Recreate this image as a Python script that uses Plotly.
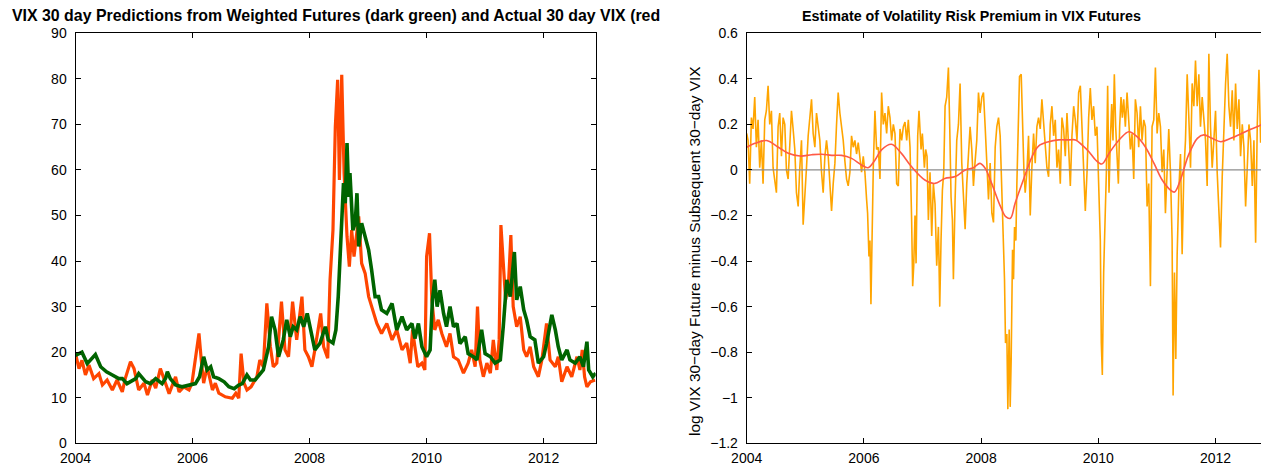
import plotly.graph_objects as go

# ---------------- Left panel: actual VIX (red) and predicted (dark green) ----------------
act_years = [2004.00, 2004.06, 2004.11, 2004.17, 2004.23, 2004.31, 2004.40, 2004.46, 2004.54, 2004.63,
             2004.71, 2004.80, 2004.85, 2004.94, 2005.00, 2005.08, 2005.17, 2005.23, 2005.31, 2005.37,
             2005.45, 2005.51, 2005.60, 2005.71, 2005.77, 2005.85, 2005.94, 2005.99, 2006.05, 2006.11,
             2006.15, 2006.19, 2006.25, 2006.34, 2006.39, 2006.45, 2006.56, 2006.68, 2006.74, 2006.79,
             2006.83, 2006.88, 2006.93, 2007.00, 2007.10, 2007.15, 2007.21, 2007.27, 2007.33, 2007.38,
             2007.44, 2007.52, 2007.58, 2007.64, 2007.71, 2007.78, 2007.87, 2007.92, 2007.98, 2008.04,
             2008.09, 2008.19, 2008.24, 2008.31, 2008.35, 2008.40, 2008.44, 2008.48, 2008.51, 2008.55,
             2008.59, 2008.64, 2008.68, 2008.72, 2008.76, 2008.84, 2008.89, 2008.95, 2009.01, 2009.06,
             2009.15, 2009.23, 2009.32, 2009.41, 2009.49, 2009.58, 2009.66, 2009.72, 2009.76, 2009.80,
             2009.85, 2009.92, 2009.97, 2010.00, 2010.05, 2010.09, 2010.14, 2010.20, 2010.26, 2010.34,
             2010.40, 2010.46, 2010.54, 2010.63, 2010.71, 2010.77, 2010.83, 2010.87, 2010.91, 2010.97,
             2011.03, 2011.09, 2011.14, 2011.20, 2011.24, 2011.27, 2011.31, 2011.35, 2011.40, 2011.44,
             2011.48, 2011.54, 2011.60, 2011.66, 2011.71, 2011.77, 2011.83, 2011.91, 2011.97, 2012.05,
             2012.11, 2012.20, 2012.25, 2012.31, 2012.40, 2012.48, 2012.57, 2012.62, 2012.66, 2012.70,
             2012.74, 2012.80, 2012.88]
act_vix = [19.7, 16.4, 18.2, 15.0, 17.2, 14.2, 15.3, 12.8, 13.9, 11.7,
           13.9, 11.3, 14.2, 17.9, 16.4, 11.7, 13.2, 10.6, 13.9, 12.1,
           16.4, 14.2, 10.9, 14.6, 11.3, 12.4, 11.7, 13.2, 19.0, 24.1,
           18.2, 13.2, 16.8, 11.7, 13.2, 11.0, 10.2, 9.9, 11.0, 9.9,
           19.7, 13.2, 11.7, 12.4, 14.6, 18.3, 16.8, 30.7, 21.2, 16.8,
           17.6, 31.1, 20.5, 19.0, 31.1, 22.7, 32.2, 20.5, 19.0, 16.8,
           20.5, 28.5, 21.2, 18.7, 35.9, 46.8, 69.5, 79.8, 57.8, 80.9,
           59.3, 45.4, 38.8, 46.8, 41.0, 49.8, 39.5, 37.3, 32.2, 30.0,
           26.3, 24.1, 26.3, 22.7, 24.9, 20.5, 22.0, 17.6, 24.9, 21.2,
           16.8, 17.6, 16.1, 41.0, 46.1, 31.5, 24.9, 27.1, 24.1, 21.2,
           24.1, 19.0, 18.3, 15.4, 17.6, 20.5, 16.8, 30.0, 18.3, 14.6,
           17.6, 15.4, 22.7, 16.1, 22.7, 47.9, 38.8, 31.5, 35.1, 45.7,
           30.0, 25.6, 27.8, 20.5, 19.0, 21.2, 16.8, 14.6, 18.3, 26.3,
           18.3, 16.8, 19.0, 13.5, 16.8, 14.6, 19.0, 16.1, 20.5, 14.6,
           12.4, 13.5, 13.9]

pred_years = [2004.00, 2004.11, 2004.20, 2004.34, 2004.43, 2004.53, 2004.63, 2004.74, 2004.80, 2004.88,
              2005.03, 2005.08, 2005.20, 2005.28, 2005.37, 2005.48, 2005.54, 2005.57, 2005.62, 2005.71,
              2005.82, 2005.94, 2006.05, 2006.12, 2006.19, 2006.25, 2006.31, 2006.36, 2006.45, 2006.54,
              2006.62, 2006.71, 2006.79, 2006.85, 2006.93, 2006.99, 2007.07, 2007.21, 2007.30, 2007.35,
              2007.41, 2007.47, 2007.55, 2007.61, 2007.67, 2007.72, 2007.78, 2007.84, 2007.90, 2007.96,
              2008.02, 2008.09, 2008.18, 2008.27, 2008.32, 2008.40, 2008.45, 2008.49, 2008.53, 2008.58,
              2008.61, 2008.64, 2008.67, 2008.69, 2008.74, 2008.78, 2008.81, 2008.84, 2008.89, 2008.95,
              2009.01, 2009.06, 2009.12, 2009.18, 2009.23, 2009.32, 2009.41, 2009.49, 2009.58, 2009.66,
              2009.75, 2009.80, 2009.86, 2009.92, 2010.00, 2010.06, 2010.10, 2010.14, 2010.18, 2010.23,
              2010.29, 2010.34, 2010.40, 2010.46, 2010.52, 2010.57, 2010.66, 2010.71, 2010.80, 2010.86,
              2010.94, 2011.00, 2011.09, 2011.17, 2011.26, 2011.31, 2011.37, 2011.43, 2011.50, 2011.54,
              2011.60, 2011.66, 2011.71, 2011.77, 2011.85, 2011.91, 2012.00, 2012.05, 2012.14, 2012.20,
              2012.25, 2012.31, 2012.40, 2012.45, 2012.54, 2012.62, 2012.68, 2012.74, 2012.77, 2012.84,
              2012.89]
pred_vix = [19.3, 20.0, 17.5, 19.5, 16.8, 15.7, 15.0, 14.2, 14.2, 13.1,
            14.2, 15.3, 13.5, 13.1, 14.2, 13.1, 14.3, 15.7, 14.2, 12.8,
            12.4, 12.8, 13.1, 14.6, 19.0, 16.1, 16.8, 14.6, 14.2, 13.5,
            12.4, 12.0, 12.8, 13.1, 15.0, 13.9, 13.9, 16.1, 21.2, 27.8,
            24.9, 19.0, 22.7, 27.1, 23.4, 25.6, 24.9, 27.8, 25.6, 28.5,
            24.9, 20.5, 22.0, 25.6, 22.7, 22.0, 24.9, 32.2, 43.2, 57.1,
            52.7, 65.9, 54.1, 59.3, 46.8, 48.3, 54.9, 43.2, 48.3, 45.4,
            42.4, 38.1, 32.2, 32.2, 29.3, 28.5, 30.7, 24.9, 27.8, 24.9,
            26.3, 23.0, 26.3, 21.2, 19.0, 20.5, 31.5, 35.9, 30.0, 33.6,
            28.5, 25.6, 30.0, 25.6, 26.3, 21.9, 23.4, 19.7, 19.0, 18.3,
            24.9, 19.7, 19.0, 17.6, 18.3, 25.6, 35.9, 32.2, 42.0, 31.5,
            34.4, 29.3, 27.1, 23.4, 22.7, 17.6, 19.0, 21.9, 28.2, 24.9,
            21.2, 18.3, 20.5, 18.3, 17.6, 19.0, 16.8, 22.3, 16.1, 14.6,
            15.4]

# ---------------- Right panel: volatility risk premium ----------------
vrp_years = [2004.000, 2004.023, 2004.051, 2004.080, 2004.108, 2004.137, 2004.165, 2004.194, 2004.222, 2004.251,
             2004.279, 2004.308, 2004.336, 2004.365, 2004.393, 2004.422, 2004.450, 2004.479, 2004.507, 2004.536,
             2004.564, 2004.593, 2004.621, 2004.650, 2004.678, 2004.707, 2004.735, 2004.764, 2004.792, 2004.821,
             2004.849, 2004.878, 2004.906, 2004.935, 2004.963, 2004.992, 2005.020, 2005.049, 2005.077, 2005.106,
             2005.134, 2005.163, 2005.191, 2005.220, 2005.248, 2005.277, 2005.305, 2005.334, 2005.362, 2005.391,
             2005.419, 2005.448, 2005.476, 2005.505, 2005.533, 2005.561, 2005.590, 2005.618, 2005.647, 2005.675,
             2005.704, 2005.732, 2005.761, 2005.789, 2005.818, 2005.846, 2005.875, 2005.903, 2005.932, 2005.960,
             2005.989, 2006.017, 2006.046, 2006.063, 2006.086, 2006.103, 2006.120, 2006.143, 2006.160, 2006.188,
             2006.217, 2006.245, 2006.274, 2006.302, 2006.331, 2006.359, 2006.388, 2006.416, 2006.445, 2006.473,
             2006.502, 2006.530, 2006.559, 2006.587, 2006.616, 2006.644, 2006.673, 2006.701, 2006.730, 2006.758,
             2006.787, 2006.815, 2006.832, 2006.850, 2006.872, 2006.890, 2006.918, 2006.940, 2006.975, 2006.997,
             2007.032, 2007.054, 2007.077, 2007.100, 2007.128, 2007.157, 2007.185, 2007.214, 2007.242, 2007.271,
             2007.294, 2007.316, 2007.339, 2007.362, 2007.385, 2007.413, 2007.442, 2007.465, 2007.487, 2007.510,
             2007.527, 2007.556, 2007.584, 2007.613, 2007.641, 2007.670, 2007.698, 2007.727, 2007.755, 2007.784,
             2007.812, 2007.841, 2007.869, 2007.898, 2007.926, 2007.955, 2007.983, 2008.012, 2008.040, 2008.069,
             2008.097, 2008.126, 2008.154, 2008.183, 2008.211, 2008.240, 2008.268, 2008.297, 2008.325, 2008.354,
             2008.382, 2008.399, 2008.416, 2008.439, 2008.456, 2008.479, 2008.496, 2008.513, 2008.536, 2008.553,
             2008.570, 2008.593, 2008.610, 2008.638, 2008.655, 2008.684, 2008.707, 2008.730, 2008.752, 2008.781,
             2008.809, 2008.838, 2008.866, 2008.895, 2008.923, 2008.952, 2008.980, 2009.009, 2009.037, 2009.066,
             2009.094, 2009.123, 2009.151, 2009.180, 2009.208, 2009.237, 2009.265, 2009.294, 2009.322, 2009.351,
             2009.379, 2009.408, 2009.436, 2009.465, 2009.493, 2009.522, 2009.550, 2009.579, 2009.607, 2009.636,
             2009.664, 2009.693, 2009.721, 2009.750, 2009.778, 2009.807, 2009.835, 2009.863, 2009.891, 2009.920,
             2009.948, 2009.977, 2010.005, 2010.034, 2010.051, 2010.068, 2010.091, 2010.114, 2010.137, 2010.159,
             2010.182, 2010.205, 2010.228, 2010.250, 2010.273, 2010.296, 2010.319, 2010.342, 2010.364, 2010.387,
             2010.410, 2010.433, 2010.461, 2010.490, 2010.518, 2010.547, 2010.575, 2010.604, 2010.632, 2010.661,
             2010.689, 2010.718, 2010.746, 2010.775, 2010.803, 2010.832, 2010.860, 2010.889, 2010.917, 2010.946,
             2010.974, 2011.003, 2011.031, 2011.060, 2011.088, 2011.117, 2011.145, 2011.174, 2011.202, 2011.231,
             2011.259, 2011.276, 2011.299, 2011.322, 2011.345, 2011.373, 2011.402, 2011.430, 2011.459, 2011.487,
             2011.516, 2011.544, 2011.573, 2011.601, 2011.630, 2011.658, 2011.687, 2011.715, 2011.743, 2011.772,
             2011.800, 2011.829, 2011.857, 2011.886, 2011.914, 2011.943, 2011.971, 2012.000, 2012.028, 2012.057,
             2012.085, 2012.114, 2012.142, 2012.171, 2012.199, 2012.228, 2012.256, 2012.285, 2012.313, 2012.342,
             2012.370, 2012.399, 2012.427, 2012.456, 2012.484, 2012.513, 2012.541, 2012.570, 2012.598, 2012.627,
             2012.655, 2012.684, 2012.712, 2012.741, 2012.769, 2012.798, 2012.826, 2012.855, 2012.880]
vrp_values = [0.16, 0.13, -0.06, 0.23, 0.18, 0.32, 0.10, 0.22, 0.01, 0.13,
              -0.06, 0.22, 0.26, 0.37, 0.20, 0.26, 0.01, -0.06, -0.10, 0.19,
              0.25, 0.06, 0.23, 0.20, 0.00, -0.04, 0.13, 0.26, 0.18, 0.09,
              -0.10, -0.16, 0.01, 0.13, -0.24, -0.13, 0.01, 0.15, 0.23, 0.31,
              0.16, 0.10, 0.25, 0.19, 0.13, -0.01, -0.10, 0.06, 0.13, 0.06,
              -0.04, -0.18, -0.06, 0.03, 0.20, 0.34, 0.25, 0.19, 0.13, 0.04,
              -0.04, -0.07, -0.01, 0.15, 0.10, 0.13, 0.07, 0.12, 0.04, -0.01,
              0.06, -0.01, -0.13, -0.19, -0.38, -0.31, -0.59, -0.16, 0.01, 0.26,
              0.09, 0.10, -0.04, 0.34, 0.20, 0.25, 0.16, 0.28, 0.23, 0.13,
              0.20, 0.16, -0.06, -0.07, 0.18, 0.13, 0.19, 0.21, 0.13, 0.22,
              0.10, -0.23, -0.51, -0.42, -0.20, -0.41, 0.15, 0.26, 0.09, 0.16,
              0.01, 0.09, 0.06, -0.22, -0.01, -0.29, -0.06, -0.15, -0.42, -0.25,
              -0.60, -0.31, -0.09, -0.01, 0.28, 0.32, 0.45, 0.18, -0.12, -0.22,
              -0.48, -0.13, 0.13, 0.20, 0.38, 0.03, -0.13, -0.26, -0.06, 0.06,
              0.19, 0.09, -0.07, 0.04, 0.13, 0.34, 0.25, 0.32, 0.34, 0.19,
              0.01, -0.13, 0.03, -0.19, -0.23, 0.10, 0.19, 0.23, 0.15, -0.09,
              -0.34, -0.48, -0.76, -0.72, -1.05, -0.70, -1.04, -0.83, -0.35, -0.48,
              -0.25, -0.31, -0.06, 0.20, 0.41, 0.42, 0.18, 0.00, -0.10, -0.01,
              0.15, -0.20, 0.01, 0.16, 0.03, 0.19, 0.23, 0.18, 0.31, 0.20,
              0.13, 0.01, -0.03, 0.20, 0.28, 0.15, 0.22, 0.01, 0.09, -0.06,
              0.23, 0.18, 0.06, 0.25, 0.10, -0.07, 0.15, 0.28, 0.22, 0.13,
              0.34, 0.37, 0.19, -0.04, -0.18, -0.01, 0.23, 0.36, 0.22, 0.28,
              0.15, 0.19, -0.04, -0.31, -0.76, -0.90, -0.45, -0.22, -0.01, 0.37,
              -0.10, 0.13, 0.29, 0.13, 0.42, 0.19, 0.09, -0.06, 0.19, 0.32,
              0.23, 0.31, 0.19, 0.34, 0.22, 0.09, 0.16, -0.04, 0.31, 0.25,
              0.10, 0.28, 0.13, 0.22, 0.19, -0.16, -0.06, -0.51, 0.19, 0.22,
              0.45, 0.16, 0.25, 0.19, -0.01, 0.09, -0.19, 0.01, 0.18, -0.01,
              -0.31, -0.99, -0.45, -0.83, -0.37, -0.09, 0.07, -0.37, -0.01, 0.13,
              0.42, 0.23, 0.01, 0.38, 0.28, 0.48, 0.28, 0.42, 0.19, 0.32,
              0.22, 0.13, -0.07, 0.51, 0.19, 0.01, 0.13, 0.26, -0.01, -0.19,
              -0.34, -0.03, 0.20, 0.38, 0.51, 0.28, 0.19, 0.35, 0.13, 0.38,
              0.18, 0.31, 0.06, 0.20, 0.10, -0.16, 0.01, 0.20, 0.13, -0.07,
              0.13, -0.32, 0.20, 0.44, 0.12, 0.18, 0.19, 0.20, 0.20]

smooth_years = [2004.00, 2004.14, 2004.34, 2004.54, 2004.71, 2004.91, 2005.11, 2005.28, 2005.45, 2005.62,
                2005.79, 2005.96, 2006.07, 2006.19, 2006.30, 2006.47, 2006.64, 2006.81, 2007.04, 2007.21,
                2007.38, 2007.56, 2007.73, 2007.87, 2007.98, 2008.07, 2008.18, 2008.33, 2008.42, 2008.50,
                2008.58, 2008.72, 2008.87, 2008.98, 2009.15, 2009.32, 2009.49, 2009.61, 2009.72, 2009.84,
                2009.95, 2010.06, 2010.20, 2010.38, 2010.52, 2010.66, 2010.80, 2010.95, 2011.09, 2011.23,
                2011.30, 2011.40, 2011.54, 2011.69, 2011.80, 2011.94, 2012.09, 2012.26, 2012.43, 2012.60,
                2012.71, 2012.83]
smooth_values = [0.100, 0.117, 0.129, 0.100, 0.073, 0.061, 0.067, 0.069, 0.064, 0.064,
                 0.051, 0.022, 0.010, 0.044, 0.088, 0.113, 0.073, 0.015, -0.044, -0.059,
                 -0.037, -0.029, 0.000, 0.010, 0.029, 0.007, -0.059, -0.160, -0.205, -0.212,
                 -0.146, -0.044, 0.059, 0.105, 0.124, 0.132, 0.132, 0.132, 0.110, 0.080,
                 0.045, 0.026, 0.080, 0.139, 0.168, 0.146, 0.102, 0.029, -0.044, -0.088,
                 -0.097, -0.044, 0.066, 0.139, 0.154, 0.139, 0.124, 0.139, 0.158, 0.179,
                 0.190, 0.205]

x_ticks = [2004, 2006, 2008, 2010, 2012]
left_y_ticks = [0, 10, 20, 30, 40, 50, 60, 70, 80, 90]
right_y_ticks = [-1.2, -1.0, -0.8, -0.6, -0.4, -0.2, 0, 0.2, 0.4, 0.6]
right_y_labels = ["\u22121.2", "\u22121", "\u22120.8", "\u22120.6", "\u22120.4", "\u22120.2", "0", "0.2", "0.4", "0.6"]
x_range = [2004, 2012.89]

FONT = "Liberation Sans, Arial, Helvetica, sans-serif"

fig = go.Figure()
fig.add_trace(go.Scatter(x=act_years, y=act_vix, mode="lines", xaxis="x", yaxis="y",
                         line=dict(color="rgb(255,69,0)", width=3.2), showlegend=False))
fig.add_trace(go.Scatter(x=pred_years, y=pred_vix, mode="lines", xaxis="x", yaxis="y",
                         line=dict(color="rgb(0,100,0)", width=3.6), showlegend=False))
fig.add_trace(go.Scatter(x=vrp_years, y=vrp_values, mode="lines", xaxis="x2", yaxis="y2",
                         line=dict(color="rgb(255,165,0)", width=1.6), showlegend=False))
fig.add_trace(go.Scatter(x=x_range, y=[0, 0], mode="lines", xaxis="x2", yaxis="y2",
                         line=dict(color="rgb(140,140,140)", width=1.2), showlegend=False))
fig.add_trace(go.Scatter(x=smooth_years, y=smooth_values, mode="lines", xaxis="x2", yaxis="y2",
                         line=dict(color="rgb(255,90,70)", width=1.6, shape="spline", smoothing=1.0),
                         showlegend=False))

axis_common = dict(showline=True, linecolor="black", linewidth=1, mirror="ticks",
                   ticks="inside", ticklen=5, tickcolor="black", showgrid=False, zeroline=False,
                   automargin=False,
                   tickfont=dict(family=FONT, size=14, color="black"))

# The page body has an 8 px margin, so the figure origin sits at screen (8, 8).
OFF = 8.0
W = 1261.0
H = 460.0


def px_x(sx):
    return (sx - OFF) / W


def px_y(sy):
    return 1 - (sy - OFF) / H


ydom = [px_y(443.3), px_y(33.3)]

fig.update_layout(
    width=int(W), height=int(H),
    margin=dict(l=0, r=0, t=0, b=0, pad=0, autoexpand=False),
    paper_bgcolor="white", plot_bgcolor="white",
    xaxis=dict(domain=[px_x(75.5), px_x(595.7)], range=x_range, tickvals=x_ticks,
               ticktext=[str(t) for t in x_ticks], anchor="y", ticklabelstandoff=2, **axis_common),
    yaxis=dict(domain=ydom, range=[0, 90], tickvals=left_y_ticks, anchor="x",
               ticklabelstandoff=5, **axis_common),
    xaxis2=dict(domain=[px_x(746.7), px_x(1267.7)], range=x_range, tickvals=x_ticks,
                ticktext=[str(t) for t in x_ticks], anchor="y2", ticklabelstandoff=2, **axis_common),
    yaxis2=dict(domain=ydom, range=[-1.2, 0.6], tickvals=right_y_ticks, ticktext=right_y_labels,
                anchor="x2", ticklabelstandoff=5, **axis_common),
    annotations=[
        dict(text="<b>VIX 30 day Predictions from Weighted Futures (dark green) and Actual 30 day VIX (red</b>",
             xref="paper", yref="paper", x=px_x(10), y=px_y(15.5), xanchor="left", yanchor="middle",
             showarrow=False, font=dict(family=FONT, size=15.9, color="black")),
        dict(text="<b>Estimate of Volatility Risk Premium in VIX Futures</b>",
             xref="paper", yref="paper", x=px_x(972), y=px_y(16.5), xanchor="center", yanchor="middle",
             showarrow=False, font=dict(family=FONT, size=14.3, color="black")),
        dict(text="log VIX 30\u2212day Future minus Subsequent 30\u2212day VIX",
             xref="paper", yref="paper", x=px_x(695), y=px_y(251), xanchor="center", yanchor="middle",
             textangle=-90, showarrow=False, font=dict(family=FONT, size=15.4, color="black")),
    ],
)

fig.write_html("out.html")
